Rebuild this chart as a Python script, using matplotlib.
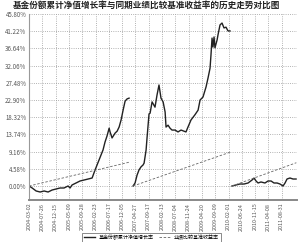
import matplotlib
matplotlib.use("Agg")
from matplotlib import pyplot as plt
import numpy as np

plt.rcParams['font.family'] = ['Noto Sans CJK SC', 'DejaVu Sans']

# ----------------- 数据 -----------------
# x 以刻度间隔为单位（0 = 第一个日期刻度）
tick_labels = ["2004-03-02", "2004-07-26", "2004-12-15", "2005-05-09", "2005-09-28",
               "2006-02-23", "2006-07-17", "2006-12-05", "2007-04-27", "2007-09-17",
               "2008-02-13", "2008-07-04", "2008-11-24", "2009-04-20", "2009-09-09",
               "2010-02-01", "2010-06-24", "2010-11-15", "2011-04-08", "2011-08-31"]

fund_x1 = [0, 0.23, 0.53, 0.83, 1.13, 1.43, 1.73, 2.03, 2.33, 2.63, 2.93, 3.08, 3.23,
           3.53, 3.83, 4.14, 4.44, 4.74, 4.96, 5.11, 5.26, 5.41, 5.56, 5.71, 5.86,
           6.02, 6.09, 6.24, 6.47, 6.62, 6.77, 6.92, 7.07, 7.22, 7.37, 7.52]
fund_y1 = [0, -0.53, -1.33, -1.6, -1.33, -1.6, -1.07, -0.8, -0.53, -0.53, 0, -0.53, 0.27,
           0.8, 1.33, 1.6, 1.86, 2.13, 4.26, 5.59, 6.92, 8.26, 9.59, 11.7, 13.3,
           15.4, 14.4, 12.8, 14.1, 14.6, 15.7, 17.6, 20.2, 22.6, 23.2, 23.4]

fund_x2 = [7.82, 7.97, 8.12, 8.27, 8.42, 8.57, 8.65, 8.80, 8.87, 8.95, 9.02, 9.10, 9.25,
           9.47, 9.62, 9.77, 9.92, 10.08, 10.23, 10.30, 10.45, 10.60, 10.75, 10.98,
           11.20, 11.43, 11.65, 11.80, 11.95, 12.18, 12.48, 12.71, 12.86, 13.08, 13.31,
           13.46, 13.61, 13.68, 13.76, 13.83, 13.91, 13.98, 14.14, 14.21, 14.36, 14.51,
           14.66, 14.81, 14.96, 15.11]
fund_y2 = [0, 0.8, 2.9, 4.3, 5.1, 5.6, 6.1, 9.6, 12.8, 16.2, 19.2, 19.4, 22.4,
           21.0, 24.2, 26.9, 23.4, 22.4, 19.7, 15.7, 16.2, 15.4, 14.9, 14.9,
           14.4, 14.9, 14.6, 14.4, 15.7, 17.6, 19.0, 20.2, 22.9, 23.7, 26.4,
           28.8, 31.4, 34.9, 39.4, 37.0, 39.7, 36.8, 38.9, 40.3, 42.9, 43.4,
           42.1, 42.3, 41.3, 41.3]

fund_x3 = [15.26, 15.56, 15.86, 16.17, 16.47, 16.77, 16.92, 17.07, 17.22, 17.44, 17.74,
           17.97, 18.20, 18.42, 18.65, 18.87, 19.10, 19.25, 19.40, 19.62, 19.85, 20.08]
fund_y3 = [0, 0.27, 0.53, 0.53, 0.8, 1.6, 2.1, 1.33, 0.8, 1.07, 0.8,
           1.33, 1.33, 0.8, 0.8, 0.53, 0, 0.8, 1.86, 2.13, 1.86, 1.86]

bench_x = [[0, 7.6], [7.82, 15.2], [15.26, 20.1]]
bench_y = [[0, 6.4], [0, 9.1], [0, 6.2]]

yticks = [i * 4.58 for i in range(11)]

# ----------------- 绘图 -----------------
fig = plt.figure(figsize=(3.0, 2.42), dpi=100)
ax = fig.add_axes([0.097, 0.174, 0.893, 0.768])

line_kw = dict(color='#222222', linewidth=1.0)
ax.plot(fund_x1, fund_y1, label='基金份额累计净值增长率', **line_kw)
ax.plot(fund_x2, fund_y2, **line_kw)
ax.plot(fund_x3, fund_y3, **line_kw)

for i, (bx, by) in enumerate(zip(bench_x, bench_y)):
    ax.plot(bx, by, color='#666666', linewidth=0.6, linestyle=(0, (3, 2)),
            label='业绩比较基准收益率' if i == 0 else None)

ax.set_xlim(0, 20.15)
ax.set_ylim(-3.7, 45.8)
ax.set_yticks(yticks)
ax.set_yticklabels([f"{v:.2f}%" for v in yticks], fontsize=4.4, color='#555555')
ax.set_xticks(range(len(tick_labels)))
ax.set_xticklabels(tick_labels, rotation=90, fontsize=3.9, color='#555555')
ax.tick_params(length=0, pad=2)

ax.grid(True, linestyle=':', color='#999999', linewidth=0.6)
for s in ['top', 'right']:
    ax.spines[s].set_visible(False)
ax.spines['left'].set_color('#999999')
ax.spines['bottom'].set_color('#888888')
ax.spines['bottom'].set_linewidth(1.4)

fig.text(0.49, 0.998, "基金份额累计净值增长率与同期业绩比较基准收益率的历史走势对比图",
         ha='center', va='top', fontsize=6.2, fontweight='bold', color='#222222')

leg = fig.legend(loc='lower center', bbox_to_anchor=(0.505, -0.01), ncol=2,
                 fontsize=3.6, frameon=True, fancybox=False, edgecolor='#333333',
                 handlelength=2.2, columnspacing=1.0, borderpad=0.35)
leg.get_frame().set_linewidth(0.5)

fig.savefig('out.png', dpi=100)
